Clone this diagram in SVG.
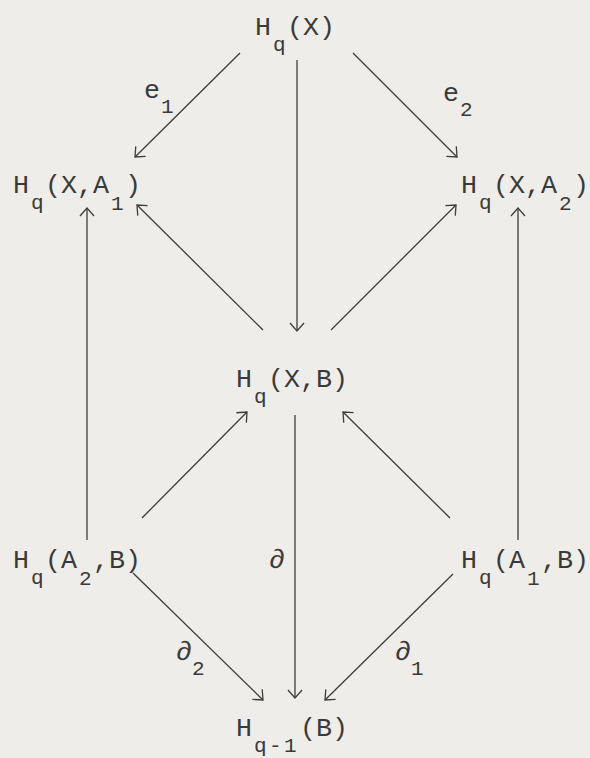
<svg xmlns="http://www.w3.org/2000/svg" width="590" height="758" viewBox="0 0 590 758">
<defs>
<style>
.t{font-family:"Liberation Mono","DejaVu Sans Mono",monospace;font-size:26.67px;fill:#3a3a3a}
.s{font-size:21px}
.c{stroke:#3d3d3d;stroke-width:1.3;fill:none}
</style>
<marker id="ah" markerWidth="20" markerHeight="20" refX="10" refY="10" orient="auto" markerUnits="userSpaceOnUse" viewBox="0 0 20 20"><path d="M2,3 L10,10 L2,17" fill="none" stroke="#3d3d3d" stroke-width="1.3"/></marker>
</defs>
<rect x="0" y="0" width="590" height="758" fill="#efede9"/>
<g id="connectors">
<line class="c" x1="240" y1="53" x2="135" y2="157" marker-end="url(#ah)"/>
<line class="c" x1="297" y1="60" x2="297" y2="331" marker-end="url(#ah)"/>
<line class="c" x1="353" y1="53" x2="457" y2="157" marker-end="url(#ah)"/>
<line class="c" x1="87" y1="540" x2="87" y2="208" marker-end="url(#ah)"/>
<line class="c" x1="518" y1="540" x2="518" y2="208" marker-end="url(#ah)"/>
<line class="c" x1="263" y1="330" x2="137" y2="205" marker-end="url(#ah)"/>
<line class="c" x1="331" y1="330" x2="456" y2="205" marker-end="url(#ah)"/>
<line class="c" x1="142" y1="518" x2="247" y2="412" marker-end="url(#ah)"/>
<line class="c" x1="450" y1="518" x2="343" y2="412" marker-end="url(#ah)"/>
<line class="c" x1="295" y1="415" x2="295" y2="698" marker-end="url(#ah)"/>
<line class="c" x1="133" y1="573" x2="263" y2="700" marker-end="url(#ah)"/>
<line class="c" x1="453" y1="574" x2="325" y2="700" marker-end="url(#ah)"/>
</g>
<g id="labels">
<text class="t" x="144" y="98">e</text><text class="t s" x="161" y="113">1</text>
<text class="t" x="443" y="101">e</text><text class="t s" x="460" y="116">2</text>
<text class="t" x="269" y="568">∂</text>
<text class="t" x="176" y="660">∂</text><text class="t s" x="192" y="675">2</text>
<text class="t" x="395" y="660">∂</text><text class="t s" x="411" y="675">1</text>
</g>
<g id="n-HqX">
<text class="t" x="255" y="35">H</text><text class="t s" x="273" y="51">q</text><text class="t" x="287" y="35">(X)</text>
</g>
<g id="n-HqXA1">
<text class="t" x="13" y="193">H</text><text class="t s" x="31" y="209">q</text><text class="t" x="45" y="193">(X,A</text><text class="t s" x="111" y="210">1</text><text class="t" x="125" y="193">)</text>
</g>
<g id="n-HqXA2">
<text class="t" x="461" y="193">H</text><text class="t s" x="479" y="209">q</text><text class="t" x="493" y="193">(X,A</text><text class="t s" x="559" y="210">2</text><text class="t" x="573" y="193">)</text>
</g>
<g id="n-HqXB">
<text class="t" x="236" y="387">H</text><text class="t s" x="254" y="403">q</text><text class="t" x="268" y="387">(X,B)</text>
</g>
<g id="n-HqA2B">
<text class="t" x="13" y="568">H</text><text class="t s" x="31" y="584">q</text><text class="t" x="45" y="568">(A</text><text class="t s" x="79" y="585">2</text><text class="t" x="93" y="568">,B)</text>
</g>
<g id="n-HqA1B">
<text class="t" x="461" y="568">H</text><text class="t s" x="479" y="584">q</text><text class="t" x="493" y="568">(A</text><text class="t s" x="527" y="585">1</text><text class="t" x="541" y="568">,B)</text>
</g>
<g id="n-Hq1B">
<text class="t" x="236" y="736">H</text><text class="t s" x="254 269 284" y="752">q-1</text><text class="t" x="300" y="736">(B)</text>
</g>
</svg>
